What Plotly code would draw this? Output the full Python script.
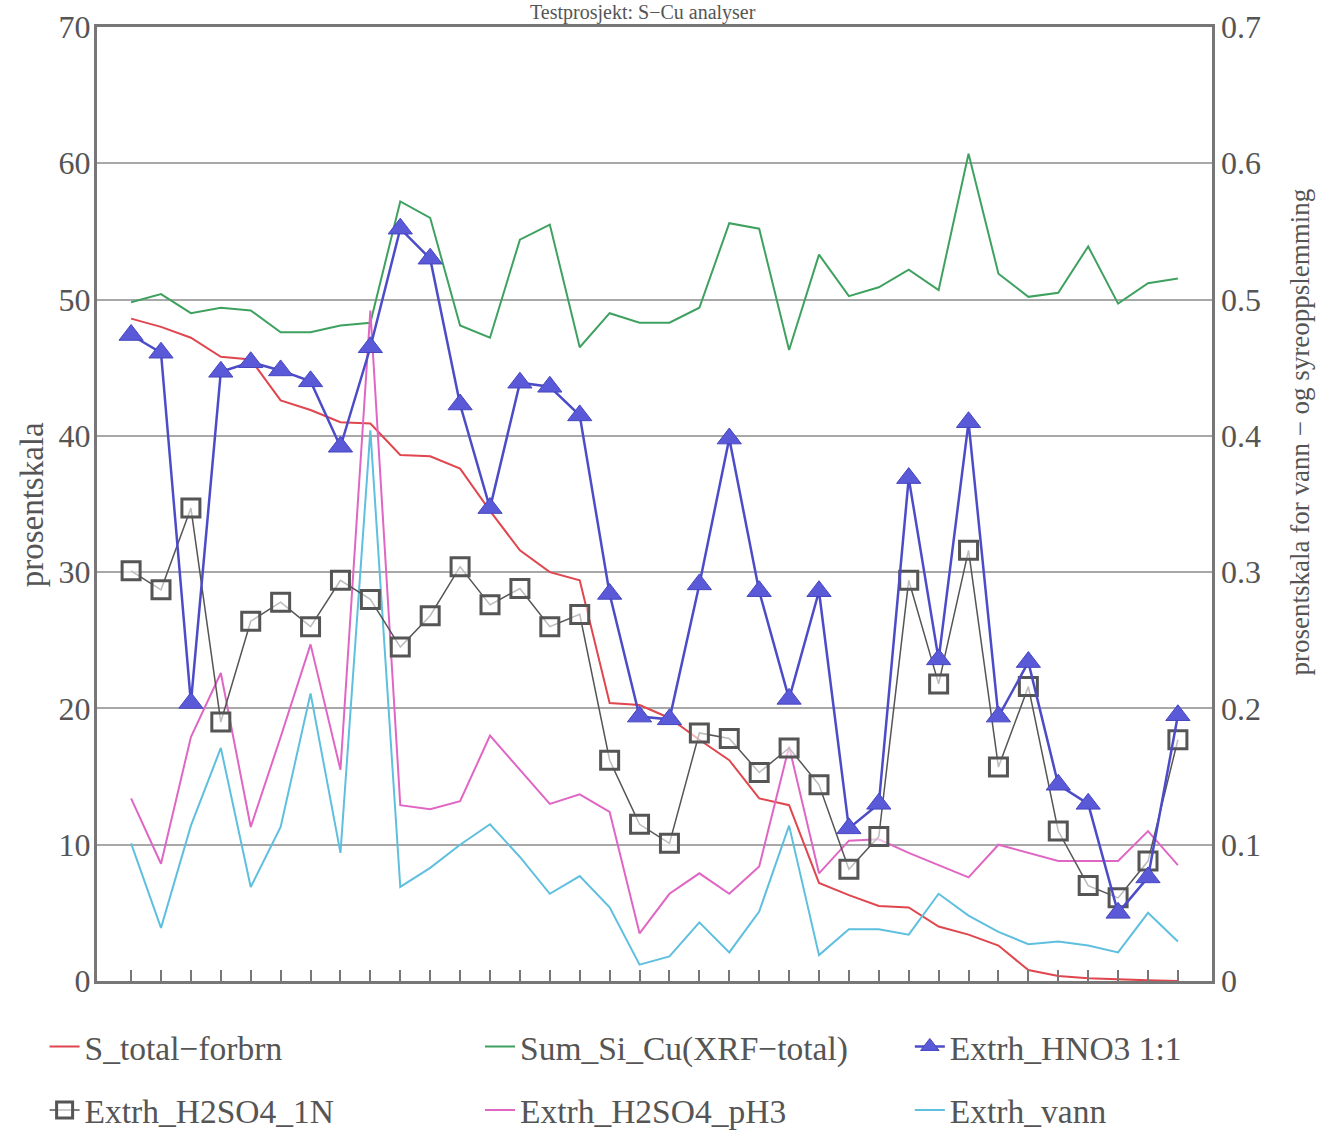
import plotly.graph_objects as go

samples = list(range(1, 37))

s_total = [48.6, 48.0, 47.2, 45.8, 45.6, 42.6, 41.9, 41.0, 40.9, 38.6, 38.5, 37.6,
           34.5, 31.6, 30.0, 29.4, 20.4, 20.25, 19.3, 17.7, 16.2, 13.4, 12.9, 7.2,
           6.3, 5.5, 5.4, 4.0, 3.4, 2.6, 0.8, 0.37, 0.2, 0.1, 0.05, 0.0]

sum_si_cu = [49.8, 50.4, 49.0, 49.4, 49.2, 47.6, 47.6, 48.1, 48.3, 57.2, 56.0, 48.1,
             47.2, 54.4, 55.5, 46.5, 49.0, 48.3, 48.3, 49.4, 55.6, 55.2, 46.3, 53.3,
             50.25, 50.9, 52.2, 50.7, 60.7, 51.9, 50.2, 50.5, 53.9, 49.7, 51.2, 51.55]

hno3 = [0.474, 0.461, 0.204, 0.447, 0.454, 0.448, 0.440, 0.392, 0.465, 0.552, 0.530, 0.423,
        0.347, 0.439, 0.436, 0.415, 0.284, 0.194, 0.192, 0.291, 0.398, 0.286, 0.207, 0.286,
        0.112, 0.130, 0.369, 0.236, 0.410, 0.194, 0.234, 0.144, 0.130, 0.050, 0.076, 0.195]

h2so4_1n = [0.301, 0.287, 0.347, 0.190, 0.264, 0.278, 0.260, 0.294, 0.280, 0.245, 0.268, 0.304,
            0.276, 0.288, 0.260, 0.269, 0.162, 0.115, 0.101, 0.182, 0.178, 0.153, 0.171, 0.144,
            0.082, 0.106, 0.294, 0.218, 0.316, 0.157, 0.216, 0.110, 0.070, 0.061, 0.088, 0.177]

h2so4_ph3 = [0.134, 0.086, 0.179, 0.226, 0.113, 0.179, 0.247, 0.155, 0.492, 0.129, 0.126, 0.132,
             0.180, 0.155, 0.130, 0.137, 0.124, 0.035, 0.064, 0.079, 0.064, 0.084, 0.172, 0.079,
             0.103, 0.104, 0.094, 0.085, 0.076, 0.100, 0.094, 0.088, 0.088, 0.088, 0.110, 0.085]

vann = [0.101, 0.039, 0.114, 0.171, 0.069, 0.113, 0.211, 0.094, 0.404, 0.069, 0.083, 0.100,
        0.115, 0.091, 0.064, 0.077, 0.054, 0.012, 0.018, 0.043, 0.021, 0.051, 0.114, 0.019,
        0.038, 0.038, 0.034, 0.064, 0.048, 0.036, 0.027, 0.029, 0.026, 0.021, 0.050, 0.029]

left_ticks = [0, 10, 20, 30, 40, 50, 60, 70]
right_ticks = [0, 0.1, 0.2, 0.3, 0.4, 0.5, 0.6, 0.7]
right_tick_text = ["0", "0.1", "0.2", "0.3", "0.4", "0.5", "0.6", "0.7"]

FONT = "Liberation Serif, Times New Roman, serif"
TXT = "#555555"

fig = go.Figure()

fig.add_trace(go.Scatter(x=samples, y=vann, yaxis="y2", mode="lines", name="Extrh_vann",
                         line=dict(color="#5fbfdf", width=2), legend="legend3",
                         legendgroup="g6", legendrank=2))
fig.add_trace(go.Scatter(x=samples, y=h2so4_ph3, yaxis="y2", mode="lines", name="Extrh_H2SO4_pH3",
                         line=dict(color="#e066c4", width=2), legend="legend2",
                         legendgroup="g5", legendrank=2))
fig.add_trace(go.Scatter(x=samples, y=s_total, mode="lines", name="S_total\u2212forbrn",
                         line=dict(color="#e0464e", width=2), legend="legend",
                         legendgroup="g1", legendrank=1))
fig.add_trace(go.Scatter(x=samples, y=sum_si_cu, mode="lines", name="Sum_Si_Cu(XRF\u2212total)",
                         line=dict(color="#3fa160", width=2), legend="legend2",
                         legendgroup="g2", legendrank=1))
fig.add_trace(go.Scatter(x=samples, y=h2so4_1n, yaxis="y2", mode="lines+markers", name="Extrh_H2SO4_1N",
                         line=dict(color="#555555", width=1.5),
                         marker=dict(symbol="square", size=18, color="rgba(255,255,255,0.6)",
                                     line=dict(color="#555555", width=3)),
                         legend="legend", legendgroup="g4", legendrank=2))
fig.add_trace(go.Scatter(x=samples, y=hno3, yaxis="y2", mode="lines+markers", name="Extrh_HNO3 1:1",
                         line=dict(color="#4c4cc8", width=2.5),
                         marker=dict(symbol="triangle-up", size=21, color="#5a5ad8",
                                     line=dict(color="#4646c0", width=1)),
                         legend="legend3", legendgroup="g3", legendrank=1))

legend_common = dict(font=dict(family=FONT, size=33.5, color=TXT), bgcolor="rgba(0,0,0,0)",
                     orientation="v", xanchor="left", yanchor="top", tracegroupgap=17,
                     traceorder="grouped", itemwidth=30)

fig.update_layout(
    width=1330, height=1147,
    margin=dict(l=97, r=118, t=27, b=166, autoexpand=False),
    paper_bgcolor="white", plot_bgcolor="white",
    font=dict(family=FONT, size=26, color=TXT),
    showlegend=True,
    legend=dict(x=-0.047, y=-0.039, **legend_common),
    legend2=dict(x=0.3435, y=-0.039, **legend_common),
    legend3=dict(x=0.729, y=-0.039, **legend_common),
    xaxis=dict(range=[-0.14, 37.14], tickvals=samples, showticklabels=False,
               ticks="inside", ticklen=11, tickwidth=1.5, tickcolor="#777777",
               showgrid=False, zeroline=False, showline=True, mirror=True,
               linecolor="#777777", linewidth=3, automargin=False),
    yaxis=dict(range=[0, 70], tickvals=left_ticks, showgrid=True, gridcolor="#a8a8a8",
               gridwidth=1.5, zeroline=False, showline=True, mirror=True,
               linecolor="#777777", linewidth=3, ticks="", ticklabelstandoff=-3,
               automargin=False, tickfont=dict(family=FONT, size=32, color=TXT)),
    yaxis2=dict(range=[0, 0.7], tickvals=right_ticks, ticktext=right_tick_text,
                overlaying="y", side="right", showgrid=False, zeroline=False,
                showline=False, ticks="", ticklabelstandoff=8, automargin=False,
                tickfont=dict(family=FONT, size=32, color=TXT)),
    annotations=[
        dict(text="prosentskala", xref="paper", yref="paper", x=-0.058, y=0.499,
             textangle=-90, showarrow=False, font=dict(family=FONT, size=33, color=TXT),
             xanchor="center", yanchor="middle"),
        dict(text="prosentskala for vann \u2212 og syreoppslemming", xref="paper", yref="paper",
             x=1.079, y=0.575, textangle=-90, showarrow=False,
             font=dict(family=FONT, size=27, color=TXT), xanchor="center", yanchor="middle"),
        dict(text="Testprosjekt: S\u2212Cu analyser", xref="paper", yref="paper",
             x=0.49, y=1.001, showarrow=False, yanchor="bottom", xanchor="center",
             font=dict(family=FONT, size=20, color=TXT)),
    ],
)

fig.write_html("out.html")
